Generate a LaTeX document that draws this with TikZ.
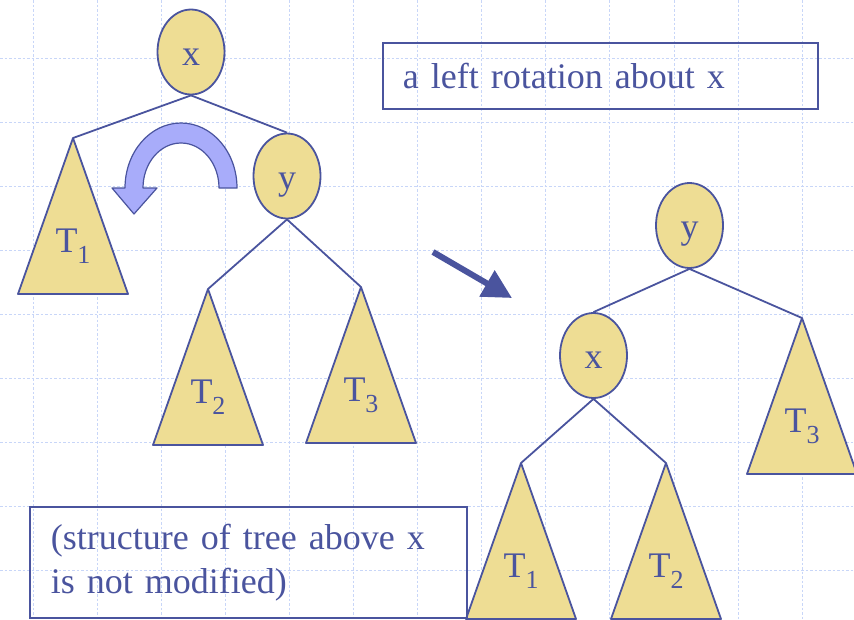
\documentclass[tikz,border=0pt]{standalone}
\usepackage{fontspec}
\setmainfont{Liberation Serif}
\usepackage{tikz}
\usetikzlibrary{arrows.meta,shapes.geometric}

\definecolor{edgeblue}{RGB}{74,84,158}
\definecolor{treefill}{RGB}{238,221,148}
\definecolor{turnfill}{RGB}{168,172,250}
\definecolor{gridblue}{RGB}{200,214,248}

\newcommand{\subtree}[1]{T\raisebox{-11pt}{\fontsize{26}{26}\selectfont #1}}

\begin{document}
\begin{tikzpicture}[
    x=1pt, y=-1pt,
    font=\fontsize{36}{44}\selectfont,
    keynode/.style={draw=edgeblue, line width=1.8pt, fill=treefill, ellipse, minimum width=67pt, minimum height=85pt, inner sep=0pt, text=edgeblue, text height=26pt, text depth=0pt},
    subtri/.style={draw=edgeblue, line width=1.8pt, fill=treefill, line join=round},
    trilabel/.style={anchor=base, inner sep=0pt, text=edgeblue},
    link/.style={draw=edgeblue, line width=1.8pt},
    notebox/.style={draw=edgeblue, line width=1.8pt, align=left, text=edgeblue, anchor=north west, inner ysep=0pt},
    gridline/.style={gridblue, line width=0.9pt, dash pattern=on 2.5pt off 2pt}
]
\useasboundingbox (0,0) rectangle (854,619);
% background grid
\foreach \k in {0,...,12}
  \draw[gridline] ({33+64.1*\k},0) -- ({33+64.1*\k},619);
\foreach \k in {0,...,8}
  \draw[gridline] (0,{58+64*\k}) -- (854,{58+64*\k});

% tree before the rotation
\node[keynode] (xa) at (191,52) {x};
\node[keynode] (ya) at (287,176) {y};
\coordinate (ta1) at (73,138);
\coordinate (ta2) at (208,289);
\coordinate (ta3) at (361,287);

% tree after the rotation
\node[keynode] (yb) at (689.5,225.5) {y};
\node[keynode] (xb) at (593.5,355.5) {x};
\coordinate (tb1) at (521,463);
\coordinate (tb2) at (666,463);
\coordinate (tb3) at (802,318);

\draw[link] (xa.south) -- (ta1);
\draw[link] (xa.south) -- (ya.north);
\draw[link] (ya.south) -- (ta2);
\draw[link] (ya.south) -- (ta3);
\draw[link] (yb.south) -- (xb.north);
\draw[link] (yb.south) -- (tb3);
\draw[link] (xb.south) -- (tb1);
\draw[link] (xb.south) -- (tb2);

% subtrees
\foreach \t/\n in {ta1/1,ta2/2,ta3/3,tb1/1,tb2/2,tb3/3} {
  \draw[subtri] (\t) -- ++(-55,156) -- ++(110,0) -- cycle;
  \node[trilabel] (lab\t) at ([yshift=-114pt]\t) {\subtree{\n}};
}

% rotation arrow
\coordinate (turn) at (181,188);
\draw[edgeblue, line width=1.2pt, fill=turnfill, line join=round]
  ([xshift=56pt]turn) arc[start angle=0, end angle=180, x radius=56pt, y radius=65pt]
  -- ++(-13,0) -- ([xshift=-47pt,yshift=-26pt]turn) -- ([xshift=-24pt]turn)
  -- ([xshift=-38pt]turn) arc[start angle=180, end angle=0, x radius=38pt, y radius=45pt]
  -- cycle;

% arrow between the trees
\coordinate (movefrom) at (433,252);
\coordinate (moveto) at (512,298);
\draw[edgeblue, line width=6pt, -{Triangle[length=29pt,width=29pt]}] (movefrom) -- (moveto);

% notes
\node[notebox, minimum width=435pt, minimum height=66pt, inner xsep=20pt, text width=395pt] (rotnote) at (382,42) {a left rotation about x};
\node[notebox, minimum width=437pt, minimum height=111pt, inner xsep=21pt, text width=395pt] (keepnote) at (29,506) {(structure of tree above x\\is not modified)};
\end{tikzpicture}
\end{document}
